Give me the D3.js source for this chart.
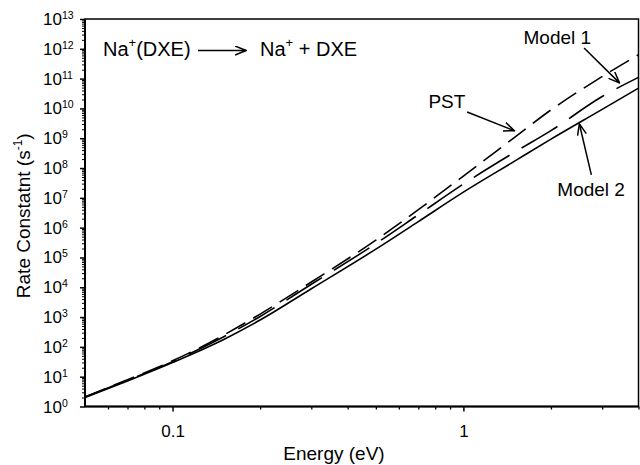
<!DOCTYPE html>
<meta charset="utf-8">
<style>

body {
  margin: 0;
  background: #fff;
}

svg {
  font-family: "Liberation Sans", Arial, Helvetica, sans-serif;
}

.curve {
  fill: none;
  stroke: #000;
  stroke-width: 1.6px;
}

.axis path,
.axis line {
  stroke: #000;
}

</style>
<body>
<script src="https://d3js.org/d3.v7.min.js"></script>
<script>

// energies (eV)
const energies = [0.05, 0.07, 0.1, 0.15, 0.2, 0.3, 0.5, 0.7, 1, 1.5, 2, 3, 4];

// rate constants (s^-1) at those energies
const pstK    = [2.1, 7.9, 34, 250, 1.26e3, 1.5e4, 3.8e5, 4.0e6, 5.4e7, 1.07e9, 8.9e9, 1.17e11, 6.3e11];
const model1K = [2.1, 7.6, 32, 219, 1.05e3, 1.26e4, 2.9e5, 2.7e6, 2.9e7, 3.4e8, 1.8e9, 2.5e10, 1.1e11];
const model2K = [2.0, 7.2, 30, 178, 794, 8.9e3, 1.9e5, 1.6e6, 1.55e7, 1.7e8, 9.3e8, 9.3e9, 4.8e10];

const xMajor = [0.1, 1];
const xMinor = [0.06, 0.07, 0.08, 0.09, 0.2, 0.3, 0.4, 0.5, 0.6, 0.7, 0.8, 0.9, 2, 3, 4];
const yExponents = d3.range(0, 14);

// annotation label / arrow positions in data units
const notes = [
  {text: "Model 1", at: [1.61, 1.45e12], from: [2.6, 1.07e12], to: [3.44, 7.2e10]},
  {text: "PST", at: [0.758, 1.05e10], from: [1.03, 7.6e9], to: [1.497, 1.78e9]},
  {text: "Model 2", at: [2.104, 1.15e7], from: [2.754, 5.9e7], to: [2.505, 3.0e9]}
];

const series = [
  {name: "PST", values: pstK, dash: "22,9"},
  {name: "Model 1", values: model1K, dash: "42,14"},
  {name: "Model 2", values: model2K, dash: null}
];

const width = 640;
const height = 465;
const margin = {top: 19, right: 1.5, bottom: 58.5, left: 85};
const innerWidth = width - margin.left - margin.right;
const innerHeight = height - margin.top - margin.bottom;

const xScale = d3.scaleLog()
    .domain([0.05, 4])
    .range([0, innerWidth]);

const yScale = d3.scaleLog()
    .domain([1, 1e13])
    .range([innerHeight, 0]);

const line = d3.line()
    .x(d => xScale(d[0]))
    .y(d => yScale(d[1]))
    .curve(d3.curveMonotoneX);

const svg = d3.select("body").append("svg")
    .attr("width", width)
    .attr("height", height)
  .append("g")
    .attr("transform", `translate(${margin.left},${margin.top})`);

svg.append("defs").append("marker")
    .attr("id", "head")
    .attr("viewBox", "0 0 12 10")
    .attr("refX", 11)
    .attr("refY", 5)
    .attr("markerWidth", 12)
    .attr("markerHeight", 10)
    .attr("markerUnits", "userSpaceOnUse")
    .attr("orient", "auto")
  .append("path")
    .attr("d", "M0,0.5L11,5L0,9.5")
    .attr("fill", "none")
    .attr("stroke", "#000")
    .attr("stroke-width", 1.5);

// curves
svg.selectAll("path.curve")
  .data(series)
  .enter()
  .append("path")
    .attr("class", "curve")
    .attr("d", d => line(energies.map((e, i) => [e, d.values[i]])))
    .attr("stroke-dasharray", d => d.dash);

// x axis
const xAxisG = svg.append("g")
    .attr("class", "axis")
    .attr("transform", `translate(0,${innerHeight})`);

xAxisG.call(d3.axisBottom(xScale).tickValues(xMajor).tickSize(5).tickPadding(13)
    .tickFormat(d3.format("")));
xAxisG.call(g => g.select(".domain").remove());
xAxisG.selectAll(".tick line").attr("stroke-width", 1.5);
xAxisG.selectAll(".tick text")
    .attr("font-size", 17)
    .attr("font-family", null)
    .attr("fill", "#000");

svg.append("g")
    .attr("class", "axis")
    .attr("transform", `translate(0,${innerHeight})`)
    .call(d3.axisBottom(xScale).tickValues(xMinor).tickSize(3).tickFormat(""))
    .call(g => g.select(".domain").remove())
    .selectAll(".tick line").attr("stroke-width", 1.3);

// y axis
const yAxisG = svg.append("g")
    .attr("class", "axis")
    .call(d3.axisLeft(yScale).tickValues(yExponents.map(e => Math.pow(10, e))).tickSize(5).tickFormat(""))
    .call(g => g.select(".domain").remove());
yAxisG.selectAll(".tick line").attr("stroke-width", 1.5);

const yMinor = [];
yExponents.slice(0, -1).forEach(e => {
  for (let m = 2; m < 10; m++) yMinor.push(m * Math.pow(10, e));
});

svg.append("g")
    .attr("class", "axis")
    .call(d3.axisLeft(yScale).tickValues(yMinor).tickSize(3).tickFormat(""))
    .call(g => g.select(".domain").remove())
    .selectAll(".tick line").attr("stroke-width", 1);

const yLabels = svg.append("g")
  .selectAll("text")
  .data(yExponents)
  .enter()
  .append("text")
    .attr("x", -42)
    .attr("y", d => yScale(Math.pow(10, d)) + 6)
    .attr("font-size", 17)
    .text("10");

yLabels.append("tspan")
    .attr("dy", -6)
    .attr("font-size", 10.5)
    .text(d => d);

// frame
svg.append("rect")
    .attr("width", innerWidth)
    .attr("height", innerHeight)
    .attr("fill", "none")
    .attr("stroke", "#000")
    .attr("stroke-width", 1.5);

svg.append("line")
    .attr("x1", 0).attr("x2", 0)
    .attr("y1", 0).attr("y2", innerHeight)
    .attr("stroke", "#000")
    .attr("stroke-width", 2);

svg.append("line")
    .attr("x1", 0).attr("x2", innerWidth)
    .attr("y1", innerHeight).attr("y2", innerHeight)
    .attr("stroke", "#000")
    .attr("stroke-width", 2.2);

// axis titles
svg.append("text")
    .attr("x", 249)
    .attr("y", innerHeight + 53.5)
    .attr("text-anchor", "middle")
    .attr("font-size", 19)
    .text("Energy (eV)");

const yTitle = svg.append("text")
    .attr("transform", `translate(-55,${innerHeight / 2 + 3}) rotate(-90)`)
    .attr("text-anchor", "middle")
    .attr("font-size", 19)
    .text("Rate Constatnt (s");
yTitle.append("tspan").attr("dy", -8).attr("font-size", 12).text("-1");
yTitle.append("tspan").attr("dy", 8).text(")");

// reaction label
const reaction = svg.append("g")
    .attr("font-size", 20);

const left = reaction.append("text")
    .attr("x", 18)
    .attr("y", 37)
    .text("Na");
left.append("tspan").attr("dy", -9).attr("font-size", 13).text("+");
left.append("tspan").attr("dy", 9).text("(DXE)");

reaction.append("line")
    .attr("x1", 113).attr("x2", 161)
    .attr("y1", 31.5).attr("y2", 31.5)
    .attr("stroke", "#000")
    .attr("stroke-width", 1.5)
    .attr("marker-end", "url(#head)");

const right = reaction.append("text")
    .attr("x", 175)
    .attr("y", 37)
    .text("Na");
right.append("tspan").attr("dy", -9).attr("font-size", 13).text("+");
right.append("tspan").attr("dy", 9).text(" + DXE");

// annotations
const note = svg.selectAll("g.note")
  .data(notes)
  .enter()
  .append("g")
    .attr("class", "note");

note.append("text")
    .attr("x", d => xScale(d.at[0]))
    .attr("y", d => yScale(d.at[1]))
    .attr("font-size", 19)
    .text(d => d.text);

note.append("line")
    .attr("x1", d => xScale(d.from[0]))
    .attr("y1", d => yScale(d.from[1]))
    .attr("x2", d => xScale(d.to[0]))
    .attr("y2", d => yScale(d.to[1]))
    .attr("stroke", "#000")
    .attr("stroke-width", 1.5)
    .attr("marker-end", "url(#head)");

</script>
